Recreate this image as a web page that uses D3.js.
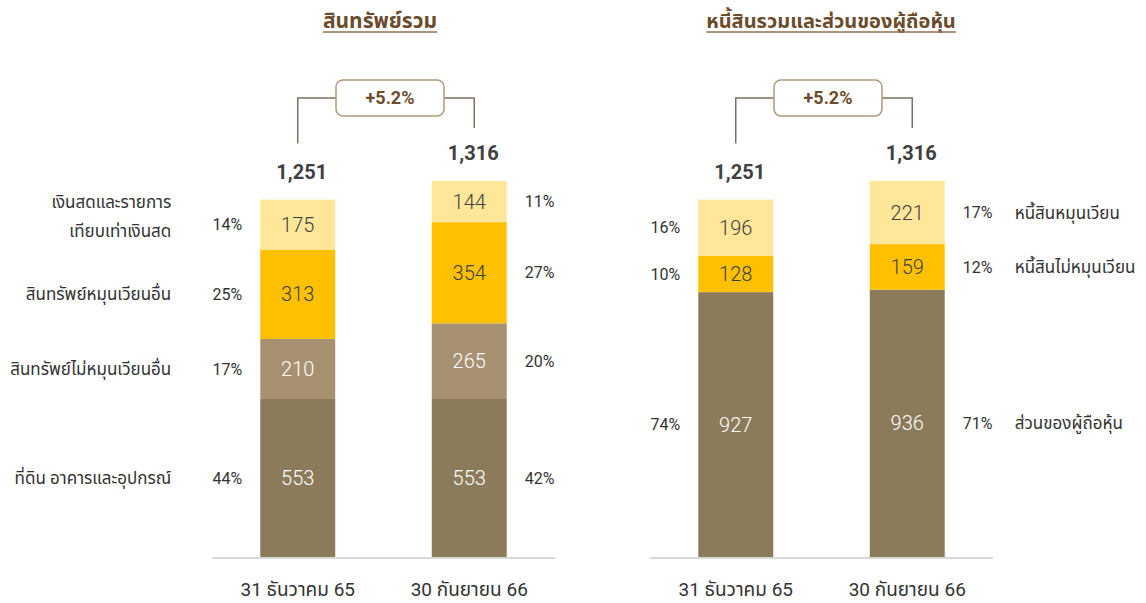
<!DOCTYPE html>
<html>
<head>
<meta charset="utf-8">
<script src="https://cdn.jsdelivr.net/npm/d3@7"></script>
<style>
  body { margin: 0; background: #fff; }
  svg text { font-family: Roboto, "Noto Sans Thai", "Noto Sans", sans-serif; }
</style>
</head>
<body>
<div id="chart-area"></div>
<script>
// values (million baht)
const periods = ["31 ธันวาคม 65", "30 กันยายน 66"];
const totals = [1251, 1316];
const growth = "+5.2%";

const assetCats = [["ที่ดิน อาคารและอุปกรณ์"], ["สินทรัพย์ไม่หมุนเวียนอื่น"], ["สินทรัพย์หมุนเวียนอื่น"], ["เงินสดและรายการ", "เทียบเท่าเงินสด"]];
const assetValues = [[553, 210, 313, 175], [553, 265, 354, 144]];
const assetPct = [["44%", "17%", "25%", "14%"], ["42%", "20%", "27%", "11%"]];
const assetColors = ["#8c7b5b", "#a89171", "#ffc000", "#ffe699"];

const liabCats = [["ส่วนของผู้ถือหุ้น"], ["หนี้สินไม่หมุนเวียน"], ["หนี้สินหมุนเวียน"]];
const liabValues = [[927, 128, 196], [936, 159, 221]];
const liabPct = [["74%", "10%", "16%"], ["71%", "12%", "17%"]];
const liabColors = ["#8c7b5b", "#ffc000", "#ffe699"];

const width = 1146, height = 603;
const base = 557, topAt = 181;
const brown = "#6b4c2c", textCol = "#404040";

let svg = d3.select('#chart-area')
  .append('svg')
  .attr('width', width)
  .attr('height', height);

const y = d3.scaleLinear().domain([0, d3.max(totals)]).range([base, topAt]);

function panel(g, opt) {
  const x = d3.scaleBand().domain(periods).range([0, 343])
    .paddingInner(0.563).paddingOuter(0.2815);
  const bw = x.bandwidth();

  // title
  const t = g.append("text")
    .attr("x", opt.titleX).attr("y", 28)
    .attr("text-anchor", "middle")
    .attr("fill", brown)
    .attr("font-size", opt.titleSize).attr("font-weight", "bold")
    .text(opt.title);
  const tb = t.node().getBBox();
  g.append("line")
    .attr("x1", tb.x).attr("x2", tb.x + tb.width)
    .attr("y1", 32).attr("y2", 32)
    .attr("stroke", "#8c7050").attr("stroke-width", 1.5);

  // stacks
  periods.forEach((p, i) => {
    let acc = 0;
    opt.values[i].forEach((v, j) => {
      const y0 = y(acc), y1 = y(acc + v);
      acc += v;
      const cx = x(p) + bw / 2, cy = (y0 + y1) / 2;
      g.append("rect")
        .attr("x", x(p)).attr("y", y1)
        .attr("width", bw).attr("height", y0 - y1)
        .attr("fill", opt.colors[j]);
      g.append("text")
        .attr("x", cx).attr("y", cy).attr("dy", "0.36em")
        .attr("text-anchor", "middle")
        .attr("font-size", 20).attr("font-weight", 300)
        .attr("fill", j < opt.darkCount ? "#fff" : textCol)
        .text(v);
      // percentage beside bar
      g.append("text")
        .attr("x", i === 0 ? x(p) - 18 : x(p) + bw + 18)
        .attr("y", cy).attr("dy", "0.36em")
        .attr("text-anchor", i === 0 ? "end" : "start")
        .attr("font-size", 16).attr("fill", "#333")
        .text(opt.pct[i][j]);
      // category label
      if (i === opt.labelBar) {
        const lines = opt.cats[j];
        const lx = i === 0 ? x(p) - 89 : x(p) + bw + 70;
        lines.forEach((ln, k) => {
          g.append("text")
            .attr("x", lx)
            .attr("y", cy + (k - (lines.length - 1) / 2) * 29 - (lines.length > 1 ? 8 : 0))
            .attr("dy", "0.36em")
            .attr("text-anchor", i === 0 ? "end" : "start")
            .attr("font-size", 17).attr("fill", "#333")
            .text(ln);
        });
      }
    });
    // total on top
    g.append("text")
      .attr("x", x(p) + bw / 2 + 4).attr("y", y(totals[i]) - 21)
      .attr("text-anchor", "middle")
      .attr("font-size", 20).attr("font-weight", "bold")
      .attr("fill", textCol)
      .text(d3.format(",")(totals[i]));
  });

  // growth bracket
  const xa = x(periods[0]) + bw / 2, xb = x(periods[1]) + bw / 2 + 5;
  const by = 98, boxW = 108, boxH = 36, mid = (xa + xb) / 2 + 4;
  g.append("path")
    .attr("d", `M${xa},${y(totals[0]) - 56}V${by}H${mid - boxW / 2}M${mid + boxW / 2},${by}H${xb}V${y(totals[1]) - 53}`)
    .attr("fill", "none").attr("stroke", "#7f7060").attr("stroke-width", 1.5);
  g.append("rect")
    .attr("x", mid - boxW / 2).attr("y", by - boxH / 2)
    .attr("width", boxW).attr("height", boxH)
    .attr("rx", 7)
    .attr("fill", "#fff").attr("stroke", "#b09a7c").attr("stroke-width", 1.5);
  g.append("text")
    .attr("x", mid).attr("y", by).attr("dy", "0.36em")
    .attr("text-anchor", "middle")
    .attr("font-size", 18).attr("font-weight", "bold")
    .attr("fill", brown)
    .text(growth);

  // baseline + axis labels
  g.append("line")
    .attr("x1", 0).attr("x2", 343)
    .attr("y1", base + 1).attr("y2", base + 1)
    .attr("stroke", "#d9d9d9").attr("stroke-width", 2);
  g.selectAll(".xlab")
    .data(periods)
    .join("text")
    .attr("x", d => x(d) + bw / 2)
    .attr("y", 589).attr("dy", "0.36em")
    .attr("text-anchor", "middle")
    .attr("font-size", 19).attr("fill", "#333")
    .text(d => d);
}

panel(svg.append("g").attr("transform", "translate(212,0)"), {
  title: "สินทรัพย์รวม", titleX: 168, titleSize: 21,
  values: assetValues, pct: assetPct, cats: assetCats,
  colors: assetColors, darkCount: 2, labelBar: 0
});

panel(svg.append("g").attr("transform", "translate(650,0)"), {
  title: "หนี้สินรวมและส่วนของผู้ถือหุ้น", titleX: 181, titleSize: 20,
  values: liabValues, pct: liabPct, cats: liabCats,
  colors: liabColors, darkCount: 1, labelBar: 1
});
</script>
</body>
</html>
